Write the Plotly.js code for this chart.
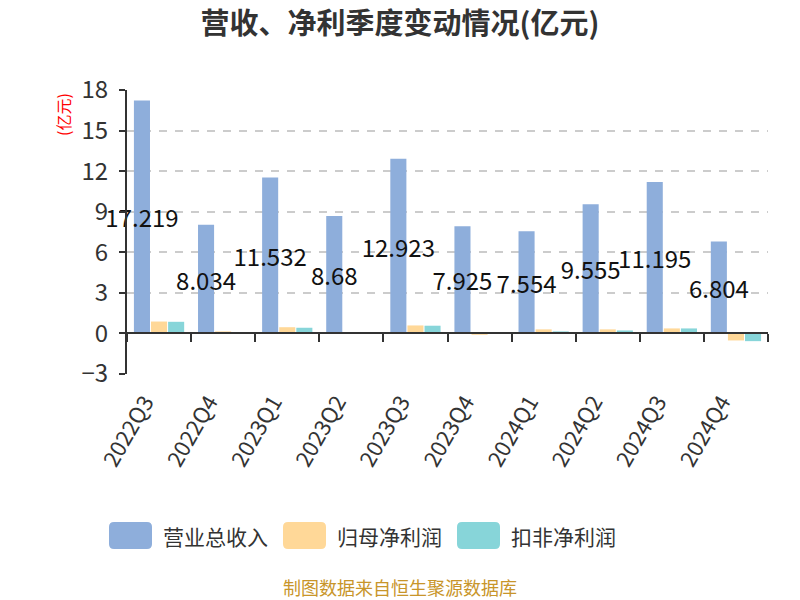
<!DOCTYPE html>
<html>
<head>
<meta charset="utf-8">
<script src="https://cdn.plot.ly/plotly-3.0.1.min.js"></script>
<style>html,body{margin:0;padding:0;background:#fff;}#chart{width:800px;height:600px;}</style>
</head>
<body>
<div id="chart"></div>
<script>
var quarters = ['2022Q3','2022Q4','2023Q1','2023Q2','2023Q3','2023Q4','2024Q1','2024Q2','2024Q3','2024Q4'];
var revenue = [17.219, 8.034, 11.532, 8.68, 12.923, 7.925, 7.554, 9.555, 11.195, 6.804];
var netProfit = [0.88, 0.15, 0.46, 0.05, 0.59, -0.1, 0.3, 0.3, 0.37, -0.52];
var netProfitExcl = [0.86, 0.01, 0.42, 0.02, 0.57, 0.02, 0.15, 0.22, 0.37, -0.57];
var seriesNames = ['营业总收入', '归母净利润', '扣非净利润'];
var seriesColors = ['#8eaedb', '#ffd898', '#87d5d9'];
var yTicks = [-3, 0, 3, 6, 9, 12, 15, 18];

var FONT = '"Noto Sans CJK SC", "Noto Sans", sans-serif';
var W = 800, H = 600;
var plotLeft = 127, plotRight = 768, plotTop = 90, plotBottom = 374, yMin = -3, yMax = 18;
var zeroPos = (0 - yMin) / (yMax - yMin);
var plotW = plotRight - plotLeft, plotH = plotBottom - plotTop;
function px2x(px){ return (px - plotLeft) / plotW; }
function px2y(py){ return (plotBottom - py) / plotH; }

var traces = [
  {type:'bar', name:seriesNames[0], x:quarters, y:revenue,
   marker:{color:seriesColors[0]}, cliponaxis:false,
   text:revenue.map(String), textposition:'inside', insidetextanchor:'middle', textangle:0, constraintext:'none',
   textfont:{family:FONT, size:24, color:'#111'}, hoverinfo:'none', showlegend:false},
  {type:'bar', name:seriesNames[1], x:quarters, y:netProfit,
   marker:{color:seriesColors[1]}, hoverinfo:'none', showlegend:false},
  {type:'bar', name:seriesNames[2], x:quarters, y:netProfitExcl,
   marker:{color:seriesColors[2]}, hoverinfo:'none', showlegend:false}
];
traces.push({type:'scatter', x:[-0.5, quarters.length-0.5], y:[0,0], xaxis:'x2', mode:'none', showlegend:false, hoverinfo:'none'});

// custom legend (rounded swatches)
var legendSwatchX = [109, 283, 457];
var swW = 43, swH = 27, swY = 522, r = 5;
var shapes = [], annotations = [];
function roundedPath(x0, y0, w, h, rr){
  var X = function(p){ return px2x(p); }, Y = function(p){ return px2y(p); };
  var x1 = x0 + w, y1 = y0 + h;
  return 'M ' + X(x0+rr) + ' ' + Y(y0) +
    ' L ' + X(x1-rr) + ' ' + Y(y0) + ' Q ' + X(x1) + ' ' + Y(y0) + ' ' + X(x1) + ' ' + Y(y0+rr) +
    ' L ' + X(x1) + ' ' + Y(y1-rr) + ' Q ' + X(x1) + ' ' + Y(y1) + ' ' + X(x1-rr) + ' ' + Y(y1) +
    ' L ' + X(x0+rr) + ' ' + Y(y1) + ' Q ' + X(x0) + ' ' + Y(y1) + ' ' + X(x0) + ' ' + Y(y1-rr) +
    ' L ' + X(x0) + ' ' + Y(y0+rr) + ' Q ' + X(x0) + ' ' + Y(y0) + ' ' + X(x0+rr) + ' ' + Y(y0) + ' Z';
}
for (var i = 0; i < seriesNames.length; i++) {
  shapes.push({type:'path', xref:'paper', yref:'paper', path:roundedPath(legendSwatchX[i], swY, swW, swH, r),
               fillcolor:seriesColors[i], line:{width:0}});
  annotations.push({text:seriesNames[i], xref:'paper', yref:'paper', x:px2x(legendSwatchX[i] + swW + 9), y:px2y(swY + swH/2),
                    xanchor:'left', yanchor:'middle', showarrow:false, font:{family:FONT, size:21, color:'#333'}});
}
annotations.push({text:'(亿元)', xref:'paper', yref:'paper', x:px2x(63), y:px2y(115), textangle:-90,
  showarrow:false, font:{family:FONT, size:16, color:'#ff0000'}, xanchor:'center', yanchor:'middle'});
annotations.push({text:'制图数据来自恒生聚源数据库', xref:'paper', yref:'paper', x:px2x(400), xanchor:'center', y:px2y(587), yanchor:'middle',
  showarrow:false, font:{family:FONT, size:18, color:'#c8952a'}});

var layout = {
  width:W, height:H,
  margin:{l:plotLeft, r:W-plotRight, t:plotTop, b:H-plotBottom, pad:0},
  paper_bgcolor:'#fff', plot_bgcolor:'#fff',
  font:{family:FONT, color:'#333'},
  title:{text:'<b>营收、净利季度变动情况(亿元)</b>', x:0.5, xref:'container', y:1-24/H, yref:'container', yanchor:'middle',
         font:{family:FONT, size:29, color:'#333'}},
  barmode:'group', bargap:0.2, bargroupgap:0.06,
  showlegend:false,
  xaxis:{type:'category', tickangle:-60, showline:false, ticks:'', showgrid:false, zeroline:false,
         ticklabelshift:-14, ticklabelstandoff:10,
         tickfont:{family:FONT, size:22, color:'#333'}},
  xaxis2:{overlaying:'x', anchor:'free', position:zeroPos, side:'bottom', range:[-0.5, quarters.length-0.5],
          tick0:-0.5, dtick:1, ticks:'outside', ticklen:8, tickwidth:2, tickcolor:'#333',
          showticklabels:false, showgrid:false, zeroline:false, showline:true, linecolor:'#333', linewidth:2, layer:'above traces'},
  yaxis:{range:[yMin, yMax], tickvals:yTicks, showline:true, linecolor:'#333', linewidth:2,
         ticks:'outside', ticklen:6, tickwidth:2, tickcolor:'#333', ticklabelstandoff:6,
         showgrid:true, gridcolor:'#cccccc', griddash:'8px,8px', gridwidth:2, zeroline:false,
         tickfont:{family:FONT, size:24, color:'#333'}},
  shapes:shapes,
  annotations:annotations
};

Plotly.newPlot('chart', traces, layout, {displayModeBar:false, staticPlot:true});
</script>
</body>
</html>
